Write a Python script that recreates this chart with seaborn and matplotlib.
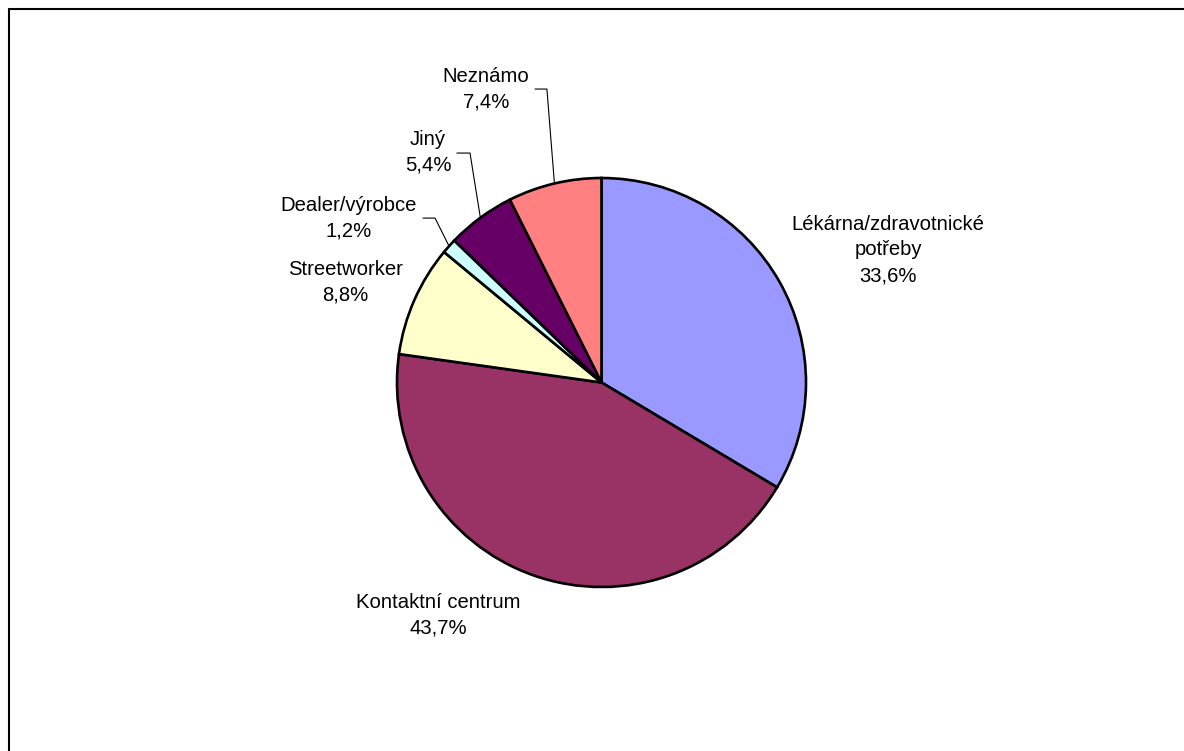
import matplotlib
matplotlib.use("Agg")
import matplotlib.pyplot as plt
from matplotlib.lines import Line2D
import numpy as np
import seaborn as sns

# Source of injection equipment (share of respondents, %)
categories = ["Lékárna/zdravotnické\npotřeby", "Kontaktní centrum", "Streetworker",
              "Dealer/výrobce", "Jiný", "Neznámo"]
shares = [33.6, 43.7, 8.8, 1.2, 5.4, 7.4]
colors = ["#9999FF", "#993366", "#FFFFCC", "#CCFFFF", "#660066", "#FF8080"]

# Label placement (pie radius = 1), and optional leader line (start x, elbow x, y)
label_xy = [(1.401, 0.648), (-0.800, -1.137), (-1.254, 0.491),
            (-1.235, 0.804), (-0.848, 1.125), (-0.565, 1.435)]
leader = [None, None, None, (-0.873, -0.814, 0.804), (-0.707, -0.643, 1.122),
          (-0.325, -0.267, 1.435)]

sns.set_theme(style="white")
plt.rcParams["font.family"] = ["Liberation Sans", "DejaVu Sans"]

W, H, DPI = 1184, 751, 100
fig = plt.figure(figsize=(W / DPI, H / DPI), dpi=DPI)
fig.patch.set_facecolor("white")
ax = fig.add_axes([0, 0, 1, 1])

wedges, _ = ax.pie(shares, colors=colors, startangle=90, counterclock=False,
                   radius=1.0, center=(0, 0),
                   wedgeprops=dict(edgecolor="black", linewidth=1.9))

cx_px, cy_px, r_px = 601.5, 382.5, 204.5
ax.set_aspect("auto")
ax.set_xlim(-cx_px / r_px, (W - cx_px) / r_px)
ax.set_ylim(-(H - cy_px) / r_px, cy_px / r_px)
ax.axis("off")

for i, (cat, val) in enumerate(zip(categories, shares)):
    txt = f"{cat}\n{val:.1f}%".replace(".", ",")
    x, y = label_xy[i]
    ax.text(x, y, txt, ha="center", va="center", fontsize=14.6,
            color="black", linespacing=1.45, multialignment="center")
    if leader[i] is not None:
        w = wedges[i]
        mid = np.deg2rad((w.theta1 + w.theta2) / 2)
        ex, ey = np.cos(mid), np.sin(mid)
        xs, xe, yl = leader[i]
        ax.plot([xs, xe, ex], [yl, yl, ey], color="black", linewidth=0.8,
                solid_joinstyle="miter")

# Chart border (top and left edges visible within the canvas)
fig.add_artist(Line2D([8.5 / W, 8.5 / W], [0, 1 - 9 / H], color="black",
                      linewidth=1.5, transform=fig.transFigure))
fig.add_artist(Line2D([8.5 / W, 1.0], [1 - 9 / H, 1 - 9 / H], color="black",
                      linewidth=1.5, transform=fig.transFigure))

fig.savefig("out.png", dpi=DPI)
